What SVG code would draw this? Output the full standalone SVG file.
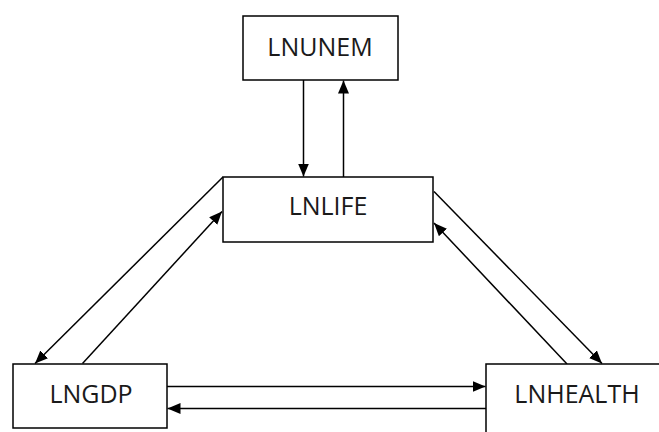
<svg xmlns="http://www.w3.org/2000/svg" width="659" height="432" viewBox="0 0 659 432">
<style>
.box{fill:#fff;stroke:#000;stroke-width:1.5}
.lbl{font-family:"Open Sans","Liberation Sans",sans-serif;font-size:25px;fill:#1a1a1a;text-anchor:middle}
.c{stroke:#000;stroke-width:1.5;fill:none;marker-end:url(#ah)}
</style>
<defs>
<marker id="ah" viewBox="0 0 13 11" refX="13" refY="5.5" markerWidth="13" markerHeight="11" markerUnits="userSpaceOnUse" orient="auto">
<path d="M0,0 L13,5.5 L0,11 z" fill="#000"/>
</marker>
</defs>
<rect width="659" height="432" fill="#fff"/>
<g id="connectors">
<line class="c" x1="303.5" y1="80" x2="303.5" y2="176.5"/>
<line class="c" x1="343.5" y1="177" x2="343.5" y2="80.5"/>
<line class="c" x1="223" y1="177" x2="35" y2="363.5"/>
<line class="c" x1="82.5" y1="363.5" x2="222" y2="211.5"/>
<line class="c" x1="434" y1="191.5" x2="602" y2="363.5"/>
<line class="c" x1="567" y1="364" x2="434" y2="223"/>
<line class="c" x1="167" y1="386.5" x2="485.5" y2="386.5"/>
<line class="c" x1="486" y1="408.5" x2="167.5" y2="408.5"/>
</g>
<g id="LNUNEM">
<rect class="box" x="243" y="16" width="155" height="64"/>
<text class="lbl" x="320" y="55.5">LNUNEM</text>
</g>
<g id="LNLIFE">
<rect class="box" x="223" y="177" width="210" height="65"/>
<text class="lbl" x="328" y="214.5">LNLIFE</text>
</g>
<g id="LNGDP">
<rect class="box" x="13" y="364" width="154" height="64"/>
<text class="lbl" x="91" y="403">LNGDP</text>
</g>
<g id="LNHEALTH">
<rect class="box" x="486" y="364" width="190" height="80"/>
<text class="lbl" x="577" y="403">LNHEALTH</text>
</g>
</svg>
